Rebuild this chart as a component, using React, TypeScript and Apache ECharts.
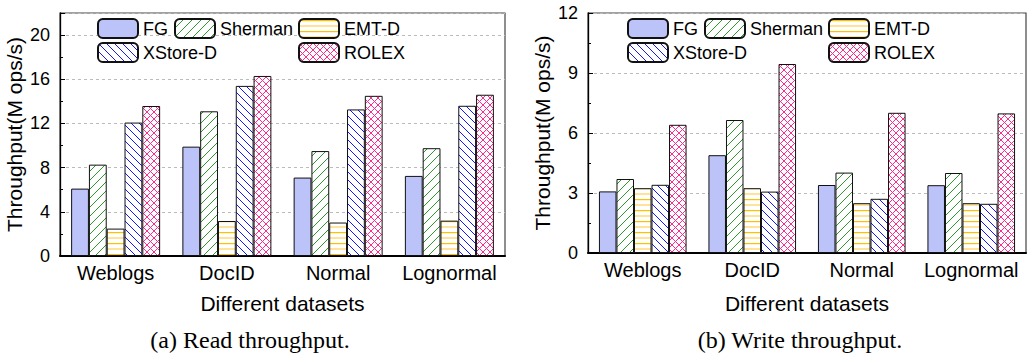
import React, { useEffect, useRef } from 'react';
import * as echarts from 'echarts';

const categories = ['Weblogs', 'DocID', 'Normal', 'Lognormal'];
const seriesNames = ['FG', 'Sherman', 'EMT-D', 'XStore-D', 'ROLEX'];

// Read throughput (M ops/s)
const readFG = [6.1, 9.9, 7.1, 7.25];
const readSherman = [8.27, 13.1, 9.5, 9.76];
const readEMT = [2.48, 3.17, 3.03, 3.2];
const readXStore = [12.08, 15.4, 13.27, 13.6];
const readROLEX = [13.58, 16.3, 14.5, 14.6];

// Write throughput (M ops/s)
const writeFG = [3.08, 4.89, 3.4, 3.39];
const writeSherman = [3.7, 6.65, 4.02, 4.0];
const writeEMT = [3.24, 3.24, 2.49, 2.49];
const writeXStore = [3.41, 3.07, 2.71, 2.46];
const writeROLEX = [6.41, 9.45, 7.01, 6.98];

const readAxisMax = 22;
const readAxisInterval = 4;
const writeAxisMax = 12;
const writeAxisInterval = 3;

const yAxisName = 'Throughput(M ops/s)';
const xAxisName = 'Different datasets';
const captionA = '(a) Read throughput.';
const captionB = '(b) Write throughput.';

const FONT = "'Liberation Sans', Arial, sans-serif";

function tile(w: number, h: number, draw: (ctx: CanvasRenderingContext2D) => void) {
  const c = document.createElement('canvas');
  c.width = w;
  c.height = h;
  const ctx = c.getContext('2d') as CanvasRenderingContext2D;
  ctx.fillStyle = '#ffffff';
  ctx.fillRect(0, 0, w, h);
  draw(ctx);
  return { image: c.toDataURL(), repeat: 'repeat', imageWidth: w, imageHeight: h };
}

function makePatterns() {
  const sherman = tile(9, 9, (ctx) => {
    ctx.strokeStyle = '#2b9a2b';
    ctx.lineWidth = 1;
    for (let k = 0; k <= 2; k++) {
      ctx.beginPath();
      ctx.moveTo(9 * k, 0);
      ctx.lineTo(9 * k - 9, 9);
      ctx.stroke();
    }
  });
  const xstore = tile(8, 8, (ctx) => {
    ctx.strokeStyle = '#1414ff';
    ctx.lineWidth = 1;
    for (let k = -1; k <= 1; k++) {
      ctx.beginPath();
      ctx.moveTo(8 * k, 0);
      ctx.lineTo(8 * k + 8, 8);
      ctx.stroke();
    }
  });
  const emt = tile(4, 11, (ctx) => {
    ctx.fillStyle = '#ffc000';
    ctx.fillRect(0, 1, 4, 1.2);
    ctx.fillStyle = '#ffe39a';
    ctx.fillRect(0, 6, 4, 2);
  });
  const rolex = tile(7, 7, (ctx) => {
    ctx.strokeStyle = '#ff2a8c';
    ctx.lineWidth = 1;
    for (let k = -1; k <= 2; k++) {
      ctx.beginPath();
      ctx.moveTo(7 * k, 0);
      ctx.lineTo(7 * k - 7, 7);
      ctx.stroke();
      ctx.beginPath();
      ctx.moveTo(7 * k - 7, 0);
      ctx.lineTo(7 * k, 7);
      ctx.stroke();
    }
  });
  return ['#bcc3f8', sherman, emt, xstore, rolex];
}

export default function App() {
  const ref = useRef<HTMLDivElement>(null);

  useEffect(() => {
    if (!ref.current) return;
    const chart = echarts.init(ref.current, null, { renderer: 'svg' });
    const fills = makePatterns();
    const readData = [readFG, readSherman, readEMT, readXStore, readROLEX];
    const writeData = [writeFG, writeSherman, writeEMT, writeXStore, writeROLEX];

    const mkY = (gridIndex: number, max: number, interval: number) => ({
      type: 'value',
      gridIndex,
      min: 0,
      max,
      interval,
      name: yAxisName,
      nameLocation: 'middle',
      nameGap: 35,
      nameTextStyle: { fontSize: 21, fontFamily: FONT, color: '#000' },
      axisLine: { show: true, lineStyle: { color: '#000', width: 1.3 } },
      axisTick: { show: true, inside: true, length: 5, lineStyle: { color: '#000' } },
      minorTick: { show: true, splitNumber: 2, length: 3, lineStyle: { color: '#000' } },
      axisLabel: {
        fontSize: 18,
        fontFamily: FONT,
        color: '#000',
        margin: 10,
        showMaxLabel: max % interval === 0,
      },
      splitLine: { show: true, lineStyle: { color: '#bbbbbb', type: [3, 3], width: 1 } },
    });

    const mkX = (gridIndex: number, gap: number) => ({
      type: 'category',
      gridIndex,
      data: categories,
      axisTick: { show: false },
      axisLine: { show: true, lineStyle: { color: '#000', width: 2 } },
      axisLabel: { interval: 0, fontSize: 20, fontFamily: FONT, color: '#000', margin: 7 },
      name: xAxisName,
      nameLocation: 'middle',
      nameGap: gap,
      nameTextStyle: { fontSize: 21, fontFamily: FONT, color: '#000' },
    });

    const mkSeries = (data: number[][], idx: number) =>
      seriesNames.map((name, i) => ({
        type: 'bar',
        name,
        xAxisIndex: idx,
        yAxisIndex: idx,
        data: data[i],
        barGap: '0%',
        barCategoryGap: '20%',
        itemStyle: {
          color: fills[i],
          borderColor: '#111',
          borderWidth: 1,
        },
      }));

    const legendBase = {
      orient: 'vertical',
      top: 18,
      padding: 0,
      itemWidth: 40,
      itemHeight: 19,
      itemGap: 3,
      selectedMode: false,
      textStyle: { fontSize: 18, fontFamily: FONT, color: '#000' },
    };

    const caption = (text: string, x: number) => ({
      type: 'text',
      x,
      y: 340,
      style: {
        text,
        fontSize: 24,
        fontFamily: "'Liberation Serif', serif",
        fill: '#000',
        align: 'center',
        verticalAlign: 'middle',
      },
    });

    chart.setOption({
      animation: false,
      backgroundColor: '#fff',
      grid: [
        { left: 60, top: 13, width: 445, height: 243, show: true, borderColor: '#444', borderWidth: 1.2 },
        { left: 588, top: 13, width: 438, height: 240, show: true, borderColor: '#444', borderWidth: 1.2 },
      ],
      xAxis: [mkX(0, 37), mkX(1, 40)],
      yAxis: [mkY(0, readAxisMax, readAxisInterval), mkY(1, writeAxisMax, writeAxisInterval)],
      legend: [
        { ...legendBase, left: 97, data: ['FG', 'XStore-D'] },
        { ...legendBase, left: 174, data: ['Sherman'] },
        { ...legendBase, left: 298, data: ['EMT-D', 'ROLEX'] },
        { ...legendBase, left: 627, data: ['FG', 'XStore-D'] },
        { ...legendBase, left: 704, data: ['Sherman'] },
        { ...legendBase, left: 828, data: ['EMT-D', 'ROLEX'] },
      ],
      series: [...mkSeries(readData, 0), ...mkSeries(writeData, 1)],
      graphic: [caption(captionA, 250), caption(captionB, 800)],
    });

    return () => {
      chart.dispose();
    };
  }, []);

  return (
    <div
      ref={ref}
      style={{ position: 'absolute', left: 0, top: 0, width: 1030, height: 360, background: '#fff' }}
    />
  );
}
